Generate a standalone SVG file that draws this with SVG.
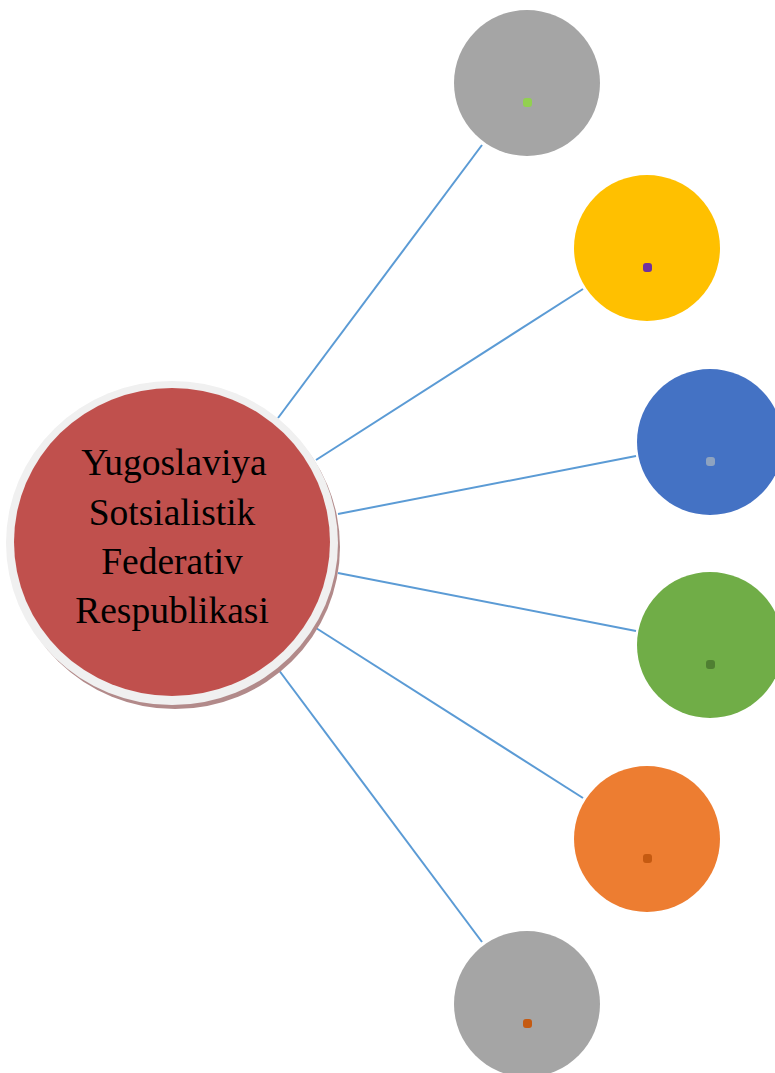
<svg xmlns="http://www.w3.org/2000/svg" width="775" height="1073" viewBox="0 0 775 1073">
<style>
.conn{stroke:#5B9BD5;stroke-width:2;fill:none}
.sat{stroke:none}
.dot{stroke:none}
.lbl{font-family:"Liberation Serif","Times New Roman",serif;font-size:37.5px;fill:#000;text-anchor:middle}
</style>
<rect width="775" height="1073" fill="#fff"/>
<g id="connectors">
<line class="conn" x1="278" y1="418" x2="482" y2="145"/>
<line class="conn" x1="316" y1="460" x2="583" y2="289"/>
<line class="conn" x1="338" y1="514" x2="636" y2="456"/>
<line class="conn" x1="338" y1="573" x2="636" y2="631"/>
<line class="conn" x1="316" y1="628" x2="583" y2="798"/>
<line class="conn" x1="278" y1="669" x2="482" y2="942"/>
</g>
<g id="center">
<ellipse cx="175" cy="547" rx="165" ry="162" fill="#B28A8A"/>
<ellipse cx="172" cy="543" rx="166" ry="162" fill="#F0F0F0"/>
<ellipse cx="172" cy="542" rx="158" ry="154" fill="#C0504D"/>
<text class="lbl" x="174" y="475">Yugoslaviya</text>
<text class="lbl" x="172" y="525">Sotsialistik</text>
<text class="lbl" x="172" y="574">Federativ</text>
<text class="lbl" x="172" y="623">Respublikasi</text>
</g>
<g id="node1"><circle class="sat" cx="527" cy="83" r="73" fill="#A5A5A5"/><rect class="dot" x="523" y="98" width="9" height="9" rx="3" fill="#92D050"/></g>
<g id="node2"><circle class="sat" cx="647" cy="248" r="73" fill="#FFC000"/><rect class="dot" x="643" y="263" width="9" height="9" rx="3" fill="#7030A0"/></g>
<g id="node3"><circle class="sat" cx="710" cy="442" r="73" fill="#4472C4"/><rect class="dot" x="706" y="457" width="9" height="9" rx="3" fill="#8EA3C0"/></g>
<g id="node4"><circle class="sat" cx="710" cy="645" r="73" fill="#70AD47"/><rect class="dot" x="706" y="660" width="9" height="9" rx="3" fill="#4F7F32"/></g>
<g id="node5"><circle class="sat" cx="647" cy="839" r="73" fill="#ED7D31"/><rect class="dot" x="643" y="854" width="9" height="9" rx="3" fill="#C55A11"/></g>
<g id="node6"><circle class="sat" cx="527" cy="1004" r="73" fill="#A5A5A5"/><rect class="dot" x="523" y="1019" width="9" height="9" rx="3" fill="#C55A11"/></g>
</svg>
